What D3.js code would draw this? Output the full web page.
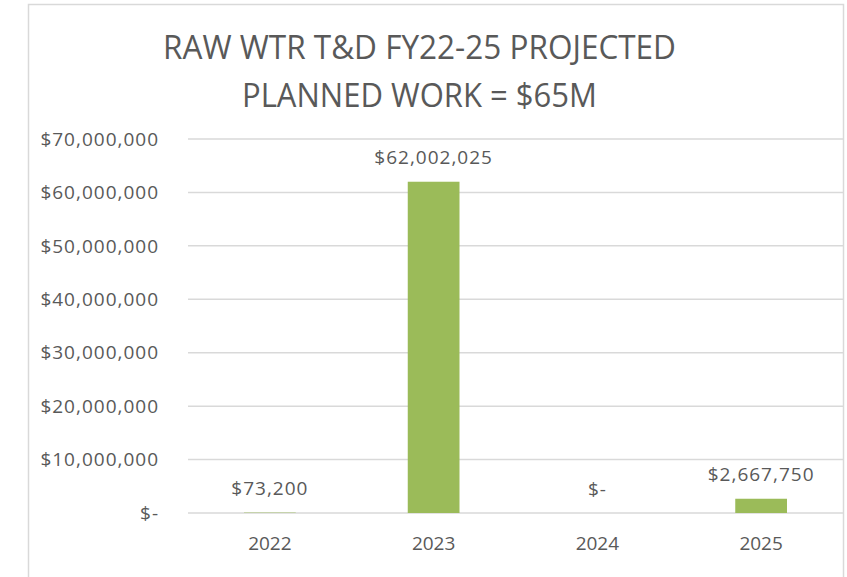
<!DOCTYPE html>
<html>
<head>
<meta charset="utf-8">
<script src="https://cdn.jsdelivr.net/npm/d3@7"></script>
<style>
    body { margin: 0; background: #fff; }
    svg { display: block; font-family: 'Open Sans', sans-serif; }
    .tick-label, .value, .year { fill: #595959; font-size: 19px; }
    .tick-label, .value { letter-spacing: 1px; }
    .chart-title { fill: #595959; font-size: 33px; }
</style>
</head>
<body>
<div id="chart"></div>
<script>
// chart data
const years = ['2022', '2023', '2024', '2025'];
const amounts = [73200, 62002025, 0, 2667750];
const yTicks = [0, 10000000, 20000000, 30000000, 40000000, 50000000, 60000000, 70000000];
const titleLines = ['RAW WTR T&D FY22-25 PROJECTED', 'PLANNED WORK = $65M'];

// layout
const width = 847;
const height = 577;
const plot = {l: 188, r: 843, t: 139, b: 513};

const svg = d3.select('#chart')
    .append('svg')
    .attr('width', width)
    .attr('height', height);

// chart border
svg.append('rect')
    .attr('x', 28.5)
    .attr('y', 4.5)
    .attr('width', 815)
    .attr('height', 620)
    .attr('fill', 'none')
    .attr('stroke', '#d9d9d9')
    .attr('stroke-width', 1.5);

// title
svg.selectAll('.chart-title')
    .data(titleLines)
    .enter()
    .append('text')
    .attr('class', 'chart-title')
    .attr('x', 419.5)
    .attr('y', (d, i) => 59 + i * 48)
    .attr('text-anchor', 'middle')
    .attr('textLength', (d, i) => i === 0 ? 513 : 355)
    .attr('lengthAdjust', 'spacingAndGlyphs')
    .text(d => d);

// scales
const scaleX = d3.scaleBand()
    .domain(years)
    .range([plot.l, plot.r])
    .paddingInner(0.684)
    .paddingOuter(0.342);

const scaleY = d3.scaleLinear()
    .domain([0, 70000000])
    .range([plot.b, plot.t]);

const money = v => v === 0 ? '$-' : '$' + d3.format(',')(v);

// gridlines + y labels
const grid = svg.append('g').attr('class', 'grid');
grid.selectAll('line')
    .data(yTicks)
    .enter()
    .append('line')
    .attr('x1', plot.l)
    .attr('x2', plot.r)
    .attr('y1', d => scaleY(d))
    .attr('y2', d => scaleY(d))
    .attr('stroke', '#d9d9d9')
    .attr('stroke-width', 1.5);

grid.selectAll('.tick-label')
    .data(yTicks)
    .enter()
    .append('text')
    .attr('class', 'tick-label')
    .attr('x', 159)
    .attr('y', d => scaleY(d))
    .attr('dy', '0.35em')
    .attr('text-anchor', 'end')
    .text(d => money(d));

// bars
const data = years.map((y, i) => ({year: y, total: amounts[i]}));

svg.append('g')
    .selectAll('.bin')
    .data(data)
    .enter()
    .append('rect')
    .attr('class', 'bin')
    .attr('x', d => scaleX(d.year))
    .attr('y', d => scaleY(d.total))
    .attr('width', scaleX.bandwidth())
    .attr('height', d => scaleY(0) - scaleY(d.total))
    .attr('fill', '#9bbb59');

// value labels
svg.selectAll('.value')
    .data(data)
    .enter()
    .append('text')
    .attr('class', 'value')
    .attr('x', d => scaleX(d.year) + scaleX.bandwidth() / 2)
    .attr('y', d => scaleY(d.total) - 17.5)
    .attr('text-anchor', 'middle')
    .text(d => money(d.total));

// x labels
svg.selectAll('.year')
    .data(years)
    .enter()
    .append('text')
    .attr('class', 'year')
    .attr('x', d => scaleX(d) + scaleX.bandwidth() / 2)
    .attr('y', 550)
    .attr('text-anchor', 'middle')
    .text(d => d);
</script>
</body>
</html>
